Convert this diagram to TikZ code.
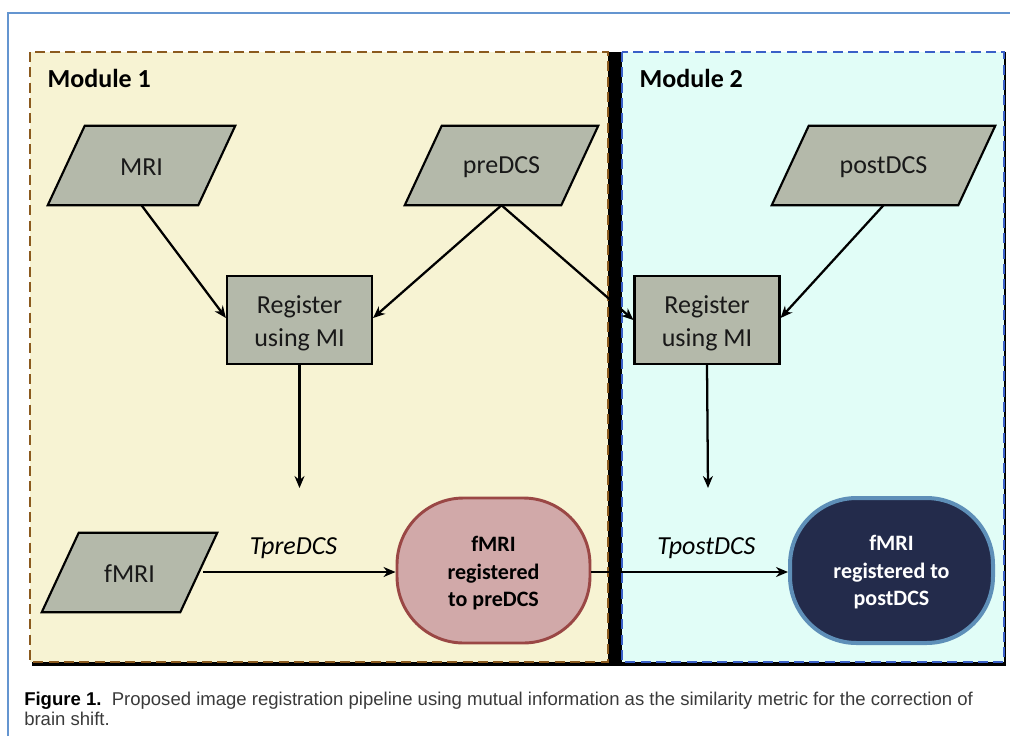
\documentclass[tikz,border=0pt]{standalone}
\usepackage{fontspec}
\setmainfont{Carlito}
\newfontfamily\capfont{Liberation Sans}
\usetikzlibrary{arrows.meta,calc}
\definecolor{frameblue}{HTML}{6495D0}
\definecolor{yelfill}{HTML}{F7F3D3}
\definecolor{cyanfill}{HTML}{E1FDF7}
\definecolor{browndash}{HTML}{8B5A1E}
\definecolor{bluedash}{HTML}{3A60C8}
\definecolor{grayfill}{HTML}{B4B9AA}
\definecolor{redfill}{HTML}{D1A9A9}
\definecolor{redline}{HTML}{9A4745}
\definecolor{navyfill}{HTML}{232B4B}
\definecolor{steelline}{HTML}{5E8FB8}
\definecolor{captext}{HTML}{3A3A3A}
\tikzset{
  txt/.style={font=\fontsize{19.5}{24.5}\selectfont, text=black!90},
  bbox/.style={draw=none, minimum width=#1},
  parashape/.style={fill=grayfill, draw=black, line width=1.6pt, line join=miter},
  regbox/.style={txt, draw=black, fill=grayfill, line width=1.6pt, minimum width=108.75pt, minimum height=66pt, align=center, inner sep=0pt},
  endbox/.style={font=\bfseries\fontsize{16.5}{20.6}\selectfont, align=center, rounded corners=50pt, minimum height=108.75pt, inner sep=0pt},
  conn/.style={line width=1.7pt, -{Stealth[length=9pt, width=7.5pt]}},
  lbl/.style={font=\itshape\fontsize{19.5}{23}\selectfont},
}
\begin{document}
\begin{tikzpicture}[x=0.75pt,y=-0.75pt]
\useasboundingbox (0,0) rectangle (1010,736);
% outer frame
\draw[frameblue, line width=1.5pt] (8,736) -- (8,13) -- (1010,13);
% shadow / separator
\fill[black] (32,52) rectangle (1006,666);
% panels
\draw[browndash, fill=yelfill, line width=1.4pt, dash pattern=on 7.5pt off 4pt] (30,52) rectangle (608,662);
\draw[bluedash, fill=cyanfill, line width=1.4pt, dash pattern=on 7.5pt off 4pt] (622,52) rectangle (1004,662);
\node[font=\bfseries\fontsize{19.5}{23}\selectfont, anchor=west] (mod1) at (43,78) {Module 1};
\node[font=\bfseries\fontsize{19.5}{23}\selectfont, anchor=west] (mod2) at (635,78) {Module 2};

% parallelogram input nodes (bounding boxes)
\node[bbox=140.25pt, minimum height=59.25pt] (mri) at (141.5,165.5) {};
\node[bbox=144.75pt, minimum height=59.25pt] (pre) at (501.5,165.5) {};
\node[bbox=167.25pt, minimum height=59.25pt] (post) at (883.5,165.5) {};
\node[bbox=131.25pt, minimum height=59.25pt] (fmri) at (129.5,572.5) {};
\foreach \n in {mri,pre,post,fmri}{
  \draw[parashape] ($(\n.north west)+(37,0)$) -- (\n.north east) -- ($(\n.south east)+(-37,0)$) -- (\n.south west) -- cycle;
}
\node[txt] (mrit) at ($(mri.center)+(0,1.5)$) {MRI};
\node[txt] (pret) at ($(pre.center)+(0,1.5)$) {preDCS};
\node[txt] (postt) at ($(post.center)+(0,1.5)$) {postDCS};
\node[txt] (fmrit) at ($(fmri.center)+(0,1.5)$) {fMRI};

% register boxes
\node[regbox] (reg1) at (299.5,320) {};
\node[regbox] (reg2) at (707,320) {};
\node[txt, align=center] (reg1t) at ($(reg1.center)+(0,3)$) {Register\\using MI};
\node[txt, align=center] (reg2t) at ($(reg2.center)+(0,3)$) {Register\\using MI};

% end nodes
\node[endbox, fill=redfill, draw=redline, line width=2.2pt, minimum width=144.75pt] (out1) at (493.5,570.5) {};
\node[endbox, fill=navyfill, draw=steelline, line width=3pt, minimum width=152.25pt] (out2) at (891.5,570.5) {};
\node[font=\bfseries\fontsize{16.5}{20.6}\selectfont, align=center] (out1t) at ($(out1.center)+(0,3)$) {fMRI\\registered\\to preDCS};
\node[font=\bfseries\fontsize{16.5}{20.6}\selectfont, align=center, text=white] (out2t) at ($(out2.center)+(0,2)$) {fMRI\\registered to\\postDCS};

% connectors
\coordinate (t1) at (299.5,488);
\coordinate (t2) at (708,488);
\draw[conn] (mri.south) -- ($(reg1.west)+(0,-2)$);
\draw[conn] (pre.south) -- ($(reg1.east)+(0,-2)$);
\draw[conn] (pre.south) -- (reg2.west);
\draw[conn] (post.south) -- ($(reg2.east)+(0,-2)$);
\draw[conn] (reg1.south) -- (t1);
\draw[conn] (reg2.south) -- (t2);
\coordinate (fm) at (203,572);
\draw[conn] (fm) -- node[lbl, pos=0.47, above=6pt] {TpreDCS} (out1.west |- fm);
\draw[conn] (out1.east |- fm) -- node[lbl, pos=0.585, above=6pt] {TpostDCS} (out2.west |- fm);

% caption
\node[font=\capfont\fontsize{13.9}{15}\selectfont, text=captext, anchor=north west, align=left, inner sep=0pt] (cap) at (24,692)
 {{\bfseries\color{black}Figure 1.}\ \ Proposed image registration pipeline using mutual information as the similarity metric for the correction of\\brain shift.};
\end{tikzpicture}
\end{document}
